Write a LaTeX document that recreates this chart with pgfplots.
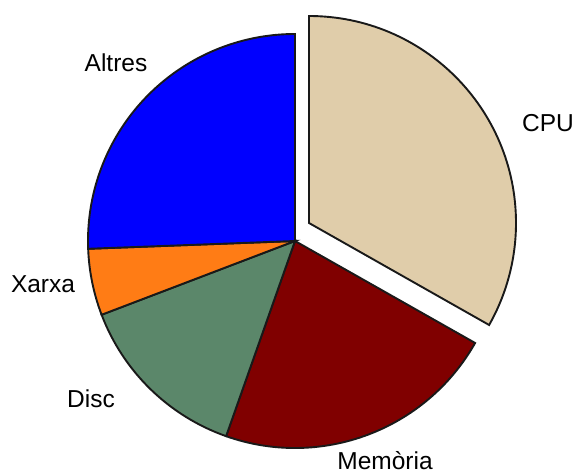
\documentclass[border=0pt]{standalone}
\usepackage{pgfplots}
\usepackage{pgfplotstable}
\pgfplotsset{compat=1.18}
\usepackage{fontspec}
\setmainfont{Liberation Sans}

\definecolor{cpu}{RGB}{224,205,170}
\definecolor{mem}{RGB}{128,0,0}
\definecolor{disc}{RGB}{91,135,106}
\definecolor{xarxa}{RGB}{255,124,21}
\definecolor{altres}{RGB}{0,0,255}

% shares in percent, clockwise from the top
\pgfplotstableread{
name    share
CPU     33.2
Memoria 22.2
Disc    13.8
Xarxa   5.2
Altres  25.6
}\pietable

\begin{document}
\begin{tikzpicture}
\useasboundingbox (0,0) rectangle (578bp,472bp);
\pgfplotstablegetelem{0}{share}\of\pietable \let\sA\pgfplotsretval
\pgfplotstablegetelem{1}{share}\of\pietable \let\sB\pgfplotsretval
\pgfplotstablegetelem{2}{share}\of\pietable \let\sC\pgfplotsretval
\pgfplotstablegetelem{3}{share}\of\pietable \let\sD\pgfplotsretval
\pgfplotstablegetelem{4}{share}\of\pietable \let\sE\pgfplotsretval
\pgfmathsetmacro\aA{90}
\pgfmathsetmacro\aB{\aA-3.6*\sA}
\pgfmathsetmacro\aC{\aB-3.6*\sB}
\pgfmathsetmacro\aD{\aC-3.6*\sC}
\pgfmathsetmacro\aE{\aD-3.6*\sD}
\pgfmathsetmacro\aF{\aE-3.6*\sE}
\begin{axis}[
    at={(0,0)}, anchor=south west,
    scale only axis,
    width=578bp, height=472bp,
    xmin=0, xmax=578, ymin=0, ymax=472,
    hide axis,
    clip=false,
]
\addplot[draw=none] coordinates {(0,0)};
\tikzset{wedge/.style={draw=black!90, line width=1.9bp, line join=miter}}
% exploded CPU slice
\filldraw[wedge, fill=cpu] (axis cs:309,249) -- ++(\aA:207bp)
    arc[start angle=\aA, end angle=\aB, radius=207bp] -- cycle;
\filldraw[wedge, fill=mem] (axis cs:295,231) -- ++(\aB:207bp)
    arc[start angle=\aB, end angle=\aC, radius=207bp] -- cycle;
\filldraw[wedge, fill=disc] (axis cs:295,231) -- ++(\aC:207bp)
    arc[start angle=\aC, end angle=\aD, radius=207bp] -- cycle;
\filldraw[wedge, fill=xarxa] (axis cs:295,231) -- ++(\aD:207bp)
    arc[start angle=\aD, end angle=\aE, radius=207bp] -- cycle;
\filldraw[wedge, fill=altres] (axis cs:295,231) -- ++(\aE:207bp)
    arc[start angle=\aE, end angle=\aF, radius=207bp] -- cycle;

\tikzset{lbl/.style={anchor=base, inner sep=0pt, font=\fontsize{24.5bp}{28bp}\selectfont}}
\node[lbl] at (axis cs:548,340) {CPU};
\node[lbl] at (axis cs:385,2.5) {Memòria};
\node[lbl] at (axis cs:91,64) {Disc};
\node[lbl] at (axis cs:43,179) {Xarxa};
\node[lbl] at (axis cs:116,400) {Altres};
\end{axis}
\end{tikzpicture}
\end{document}
